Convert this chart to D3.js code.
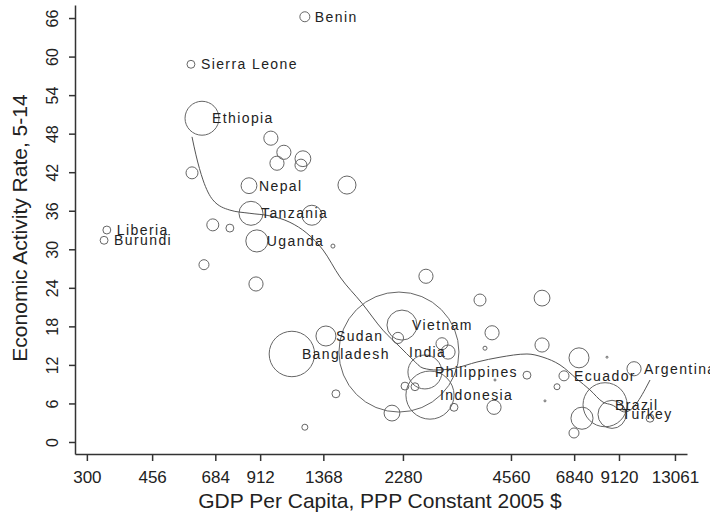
<!DOCTYPE html>
<html>
<head>
<meta charset="utf-8">
<script src="https://d3js.org/d3.v7.min.js"></script>
<style>
  body { margin: 0; background: #fff; }
  text { font-family: "Liberation Sans", Arial, sans-serif; fill: #222; }
  .axis path, .axis line { stroke: #333; stroke-width: 1.5; }
  .lbl { font-size: 14px; letter-spacing: 1.4px; }
</style>
</head>
<body>
<svg width="710" height="518"></svg>
<script>
// countries ('' = unlabelled), GDP per capita, activity rate, population (millions)
var names = ["Benin","Sierra Leone","Ethiopia","Liberia","Burundi","Nepal","Tanzania","Uganda",
  "Bangladesh","Sudan","India","Vietnam","Philippines","Indonesia","Ecuador","Argentina","Brazil","Turkey",
  "","","","","","","","","","","","","","","","","","","","","","","","","","","","","","","","","","","","","",""];
var gdp = [1215,585,628,341,335,849,860,893,
  1118,1391,2222,2266,2625,2712,6408,10044,8340,8721,
  977,1062,1016,1200,1185,1592,589,1271,673,751,1455,636,888,1483,1215,
  2643,2125,2310,2463,2208,2929,3045,3164,3738,5566,4039,3860,5566,5053,4090,
  7056,6127,8445,5672,4116,7193,6833,11130,8075,8778];
var rate = [66.2,58.8,50.4,33.0,31.4,39.9,35.6,31.3,
  13.7,16.5,14.0,18.2,10.9,7.3,10.3,11.4,5.8,4.3,
  47.3,45.1,43.4,44.1,43.1,40.0,41.9,35.3,33.8,33.3,30.5,27.6,24.6,7.5,2.3,
  25.8,4.5,8.7,8.6,16.2,15.3,14.0,5.4,22.1,22.4,17.0,14.6,15.1,10.4,5.4,
  13.1,8.6,13.2,6.4,9.65,3.7,1.4,3.7,5.9,6.1];
var pop = [8,5,92,5,5,20,46,39,
  165,32,1150,72,92,185,8,16,155,63,
  16,16,16,20,11.5,26,11.5,32,11.5,5,1.3,8,16,5,2.9,
  16,20,5,5,10,11.5,16,5,11.5,20,16,1.3,16,5,16,
  32,2.9,0.3,0.3,0.3,39,8,5,2.9,2.9];

// smoothed fit
var curveGdp = [589,604,632,673,751,854,971,1104,1231,1365,1522,1753,2006,2237,2431,2593,2837,3184,3667,4250,5053,5600,6246,6966,7573,8233,8721,9480,11130];
var curveRate = [47.5,44.7,40.8,37.7,36.1,35.6,35.2,34.2,32.5,29.9,25.7,21.6,17.4,14.8,12.8,11.5,11.2,11.5,12.45,13.2,13.7,13.2,12.0,9.8,8.1,6.2,5.76,4.67,9.65];

var xTicks = [300,456,684,912,1368,2280,4560,6840,9120,13061];
var yTicks = [0,6,12,18,24,30,36,42,48,54,60,66];

var svg = d3.select("svg");

var x = d3.scaleLog().domain([278, 14110]).range([75, 687]);
var y = d3.scaleLinear().domain([-1.87, 68.03]).range([454, 5]);
var r = d3.scaleSqrt().domain([0, 1150]).range([0, 60]);

var pts = names.map(function(n, i) { return {name: n, gdp: gdp[i], rate: rate[i], pop: pop[i]}; });
var curve = curveGdp.map(function(g, i) { return [g, curveRate[i]]; });

// axes
var xAxis = svg.append("g")
    .attr("class", "axis")
    .attr("transform", "translate(0,454)")
    .call(d3.axisBottom(x).tickValues(xTicks).tickFormat(d3.format("d")).tickSize(7).tickSizeOuter(0));
xAxis.selectAll("text")
    .attr("y", 29).attr("dy", 0)
    .style("font-size", "17px");

var yAxis = svg.append("g")
    .attr("class", "axis")
    .attr("transform", "translate(75,0)")
    .call(d3.axisLeft(y).tickValues(yTicks).tickSize(6).tickSizeOuter(0));
yAxis.selectAll("text")
    .attr("transform", "rotate(-90)")
    .attr("x", 0).attr("y", -17).attr("dy", 0)
    .attr("text-anchor", "middle")
    .style("font-size", "16px");

svg.selectAll(".axis text").style("fill", "#222");

svg.append("text")
    .attr("x", 380).attr("y", 508)
    .attr("text-anchor", "middle")
    .style("font-size", "21px")
    .text("GDP Per Capita, PPP Constant 2005 $");

svg.append("text")
    .attr("transform", "translate(27,228) rotate(-90)")
    .attr("text-anchor", "middle")
    .style("font-size", "21px")
    .text("Economic Activity Rate, 5-14");

// bubbles
svg.append("g").selectAll("circle")
    .data(pts)
  .enter().append("circle")
    .attr("cx", function(d) { return x(d.gdp); })
    .attr("cy", function(d) { return y(d.rate); })
    .attr("r", function(d) { return Math.max(1, r(d.pop)); })
    .attr("fill", "none")
    .attr("stroke", "#666")
    .attr("stroke-width", 1);

// fitted line
svg.append("path")
    .datum(curve)
    .attr("fill", "none")
    .attr("stroke", "#555")
    .attr("stroke-width", 1)
    .attr("d", d3.line()
      .x(function(d) { return x(d[0]); })
      .y(function(d) { return y(d[1]); })
      .curve(d3.curveMonotoneX));

// country labels
svg.append("g").selectAll("text")
    .data(pts.filter(function(d) { return d.name; }))
  .enter().append("text")
    .attr("class", "lbl")
    .attr("x", function(d) { return x(d.gdp) + 10; })
    .attr("y", function(d) { return y(d.rate); })
    .attr("dy", "0.36em")
    .text(function(d) { return d.name; });
</script>
</body>
</html>
